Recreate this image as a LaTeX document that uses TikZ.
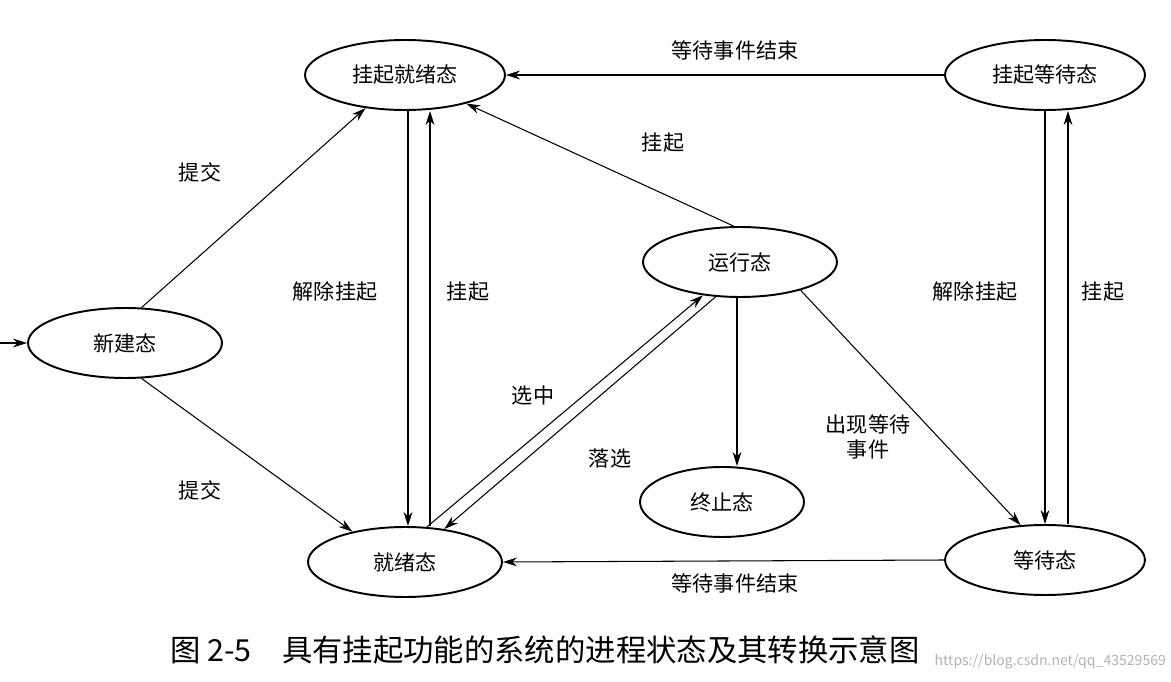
\documentclass[tikz,border=0pt]{standalone}
\usepackage{fontspec}
\setmainfont{Noto Sans CJK SC}
\usetikzlibrary{arrows.meta,shapes.geometric}
\begin{document}
\begin{tikzpicture}[x=0.02cm,y=-0.02cm,
  st/.style={draw,line width=1.1pt,ellipse,minimum width=#1*0.04cm,minimum height=1.4cm,font=\large},
  ar/.style={draw,line width=0.6pt,-{Stealth[length=8pt,width=5pt]}},
  lb/.style={font=\large}]
\useasboundingbox (0,0) rectangle (1171,682);
\node[st=100] (sj) at (405,75) {挂起就绪态};
\node[st=100] (sw) at (1045,75) {挂起等待态};
\node[st=97] (run) at (740,262) {运行态};
\node[st=97] (new) at (125,343) {新建态};
\node[st=82] (end) at (722,502) {终止态};
\node[st=97] (rdy) at (405,562) {就绪态};
\node[st=100] (wt) at (1045,560) {等待态};
\coordinate (in) at (0,343);
\coordinate (xa) at (408,0);
\coordinate (xb) at (430,0);
\coordinate (xc) at (1045,0);
\coordinate (xd) at (1068,0);
\coordinate (xe) at (737,0);
\draw[ar] (in) -- (new.west);
\draw[ar] (new.65) -- (sj.220);
\node[lb] (p1) at (200,172) {提交};
\draw[ar] (new.-65) -- (rdy.150);
\node[lb] (p2) at (200,490) {提交};
\draw[ar] (sj.south -| xa) -- (rdy.north -| xa);
\node[lb] (l1) at (335,292) {解除挂起};
\draw[ar] (rdy.north -| xb) -- (sj.south -| xb);
\node[lb] (l2) at (468,292) {挂起};
\draw[ar] (run.100) -- (sj.-25);
\node[lb] (l3) at (663,143) {挂起};
\draw[ar] (rdy.58) -- (run.222);
\node[lb] (l4) at (533,395) {选中};
\draw[ar] (run.235) -- (rdy.40);
\node[lb] (l5) at (610,458) {落选};
\draw[ar] (run.south -| xe) -- (end.north -| xe);
\draw[ar] (run.-25) -- (wt.125);
\node[lb,align=center] (l6) at (868,437) {出现等待\\事件};
\draw[ar] (wt.west) -- (rdy.east);
\node[lb] (l7) at (735,583) {等待事件结束};
\draw[ar] (sw.west) -- (sj.east);
\node[lb] (l8) at (735,50) {等待事件结束};
\draw[ar] (sw.south -| xc) -- (wt.north -| xc);
\node[lb] (l9) at (975,292) {解除挂起};
\draw[ar] (wt.north -| xd) -- (sw.south -| xd);
\node[lb] (l10) at (1103,292) {挂起};
\node[font=\LARGE] (cap) at (545,650) {图 2-5\quad 具有挂起功能的系统的进程状态及其转换示意图};
\node[font=\footnotesize,text=gray!60,anchor=east,inner sep=1pt] (wm) at (1168,662) {https://blog.csdn.net/qq\_43529569};
\end{tikzpicture}
\end{document}
